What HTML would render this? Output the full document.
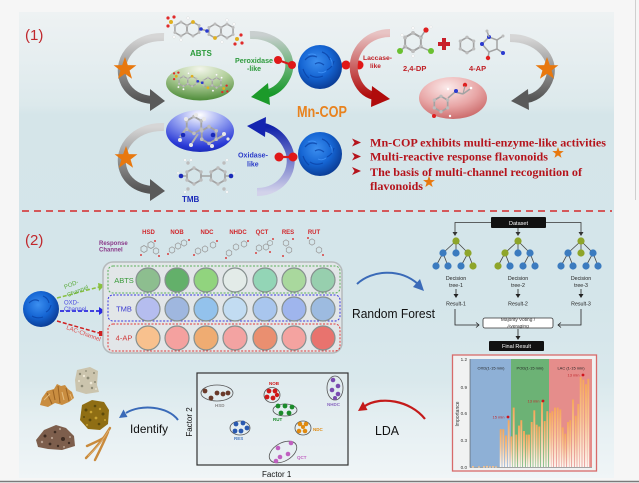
<!DOCTYPE html>
<html><head><meta charset="utf-8">
<style>
html,body{margin:0;padding:0;background:#f6f6f6;}
svg{display:block;font-family:"Liberation Sans",Arial,sans-serif;}
</style></head><body>
<svg width="639" height="483" viewBox="0 0 639 483" xmlns="http://www.w3.org/2000/svg" xmlns:xlink="http://www.w3.org/1999/xlink">
<defs>
<linearGradient id="bg" x1="0" y1="0" x2="0" y2="1">
<stop offset="0" stop-color="#eef2f3"/>
<stop offset="0.10" stop-color="#e6eef0"/>
<stop offset="0.20" stop-color="#dce9ec"/>
<stop offset="0.22" stop-color="#d5e5e9"/>
<stop offset="0.62" stop-color="#d4e5ea"/>
<stop offset="0.79" stop-color="#d9e8ec"/>
<stop offset="0.88" stop-color="#e5eff2"/>
<stop offset="1" stop-color="#f0f5f7"/>
</linearGradient>
<radialGradient id="sph" cx="0.42" cy="0.38" r="0.65">
<stop offset="0" stop-color="#3c8ff0"/><stop offset="0.55" stop-color="#1565d3"/><stop offset="1" stop-color="#0a3a92"/>
</radialGradient>
<radialGradient id="gEll" cx="0.5" cy="0.1" r="0.95">
<stop offset="0" stop-color="#f2f5ea"/><stop offset="0.45" stop-color="#b3cf9c"/><stop offset="1" stop-color="#43852f"/>
</radialGradient>
<radialGradient id="bEll" cx="0.5" cy="0.12" r="0.95">
<stop offset="0" stop-color="#ffffff"/><stop offset="0.4" stop-color="#8f9cf0"/><stop offset="0.8" stop-color="#2a3ad6"/><stop offset="1" stop-color="#1424a8"/>
</radialGradient>
<radialGradient id="rEll" cx="0.42" cy="0.25" r="0.9">
<stop offset="0" stop-color="#fbeaea"/><stop offset="0.5" stop-color="#e8a6a6"/><stop offset="1" stop-color="#bf5252"/>
</radialGradient>
<linearGradient id="grayA" x1="0" y1="0" x2="0" y2="1">
<stop offset="0" stop-color="#d6d6d6"/><stop offset="1" stop-color="#555555"/>
</linearGradient>
<linearGradient id="greenA" x1="0" y1="0" x2="0" y2="1">
<stop offset="0" stop-color="#c9cfcf"/><stop offset="1" stop-color="#17992a"/>
</linearGradient>
<linearGradient id="blueA" x1="0" y1="1" x2="0" y2="0">
<stop offset="0" stop-color="#d2d2ea"/><stop offset="1" stop-color="#1222aa"/>
</linearGradient>
<linearGradient id="redA" x1="0" y1="0" x2="0" y2="1">
<stop offset="0" stop-color="#e8c4c4"/><stop offset="1" stop-color="#b00c0c"/>
</linearGradient>
<linearGradient id="bar" x1="0" y1="0" x2="0" y2="1">
<stop offset="0" stop-color="#f6a75a"/><stop offset="0.45" stop-color="#f8c592"/><stop offset="1" stop-color="#fdf7f2"/>
</linearGradient>
<path id="star" d="M0,-12 L2.82,-3.88 L11.41,-3.71 L4.57,1.48 L7.05,9.71 L0,4.8 L-7.05,9.71 L-4.57,1.48 L-11.41,-3.71 L-2.82,-3.88 Z"/>
<g id="hx">
<polygon points="6.06,3.5 0,7 -6.06,3.5 -6.06,-3.5 0,-7 6.06,-3.5" fill="none" stroke="#a3a3a3" stroke-width="1.5"/>
<g fill="#bdbdbd"><circle cx="6.06" cy="3.5" r="1.5"/><circle cx="0" cy="7" r="1.5"/><circle cx="-6.06" cy="3.5" r="1.5"/><circle cx="-6.06" cy="-3.5" r="1.5"/><circle cx="0" cy="-7" r="1.5"/><circle cx="6.06" cy="-3.5" r="1.5"/></g>
</g>
<g id="hs">
<polygon points="6.06,3.5 0,7 -6.06,3.5 -6.06,-3.5 0,-7 6.06,-3.5" fill="none" stroke="#9a9a9a" stroke-width="1.6"/>
</g>
<g id="abts">
<use xlink:href="#hx" x="-23" y="-1"/><use xlink:href="#hx" x="-11" y="-1"/>
<use xlink:href="#hx" x="11" y="1"/><use xlink:href="#hx" x="23" y="1"/>
<line x1="-5" y1="-1" x2="5" y2="1" stroke="#a0a0a0" stroke-width="1.5"/>
<circle cx="-3" cy="-1" r="1.8" fill="#2a3ad0"/><circle cx="3" cy="1" r="1.8" fill="#2a3ad0"/>
<circle cx="-11" cy="-8" r="1.9" fill="#e0b020"/><circle cx="11" cy="8" r="1.9" fill="#e0b020"/>
<circle cx="-33" cy="-8" r="2" fill="#e0b020"/><circle cx="-36" cy="-12" r="1.6" fill="#e02a2a"/><circle cx="-30" cy="-13" r="1.6" fill="#e02a2a"/><circle cx="-36" cy="-4" r="1.6" fill="#e02a2a"/>
<circle cx="33" cy="9" r="2" fill="#e0b020"/><circle cx="37" cy="5" r="1.6" fill="#e02a2a"/><circle cx="38" cy="13" r="1.6" fill="#e02a2a"/><circle cx="31" cy="14" r="1.6" fill="#e02a2a"/>
<g fill="#ffffff" stroke="#cccccc" stroke-width="0.3"><circle cx="-23" cy="10" r="1.3"/><circle cx="-16" cy="-12" r="1.3"/><circle cx="23" cy="-10" r="1.3"/><circle cx="18" cy="12" r="1.3"/><circle cx="-30" cy="7" r="1.3"/><circle cx="30" cy="-6" r="1.3"/></g>
</g>
</defs>

<!-- backgrounds -->
<rect width="639" height="483" fill="#f6f6f6"/>
<rect x="19" y="12" width="595" height="466" fill="url(#bg)"/>
<line x1="0" y1="481.5" x2="639" y2="481.5" stroke="#7a7a7a" stroke-width="1.5"/>
<line x1="635.5" y1="0" x2="635.5" y2="200" stroke="#cfcfcf" stroke-width="1"/>

<!-- ============ SECTION 1 ============ -->
<text x="25" y="40" font-size="15" fill="#c0282d">(1)</text>

<!-- gray arrows left -->
<path d="M164,37 C132,36 114,62 125,84 C131,95 141,99 152,100" fill="none" stroke="url(#grayA)" stroke-width="8"/>
<polygon points="150,89 165,101 150,111" fill="#5a5a5a"/>
<path d="M164,127 C132,126 114,152 125,174 C131,185 141,189 152,190" fill="none" stroke="url(#grayA)" stroke-width="8"/>
<polygon points="150,179 165,191 150,201" fill="#5a5a5a"/>
<use xlink:href="#star" x="125" y="69" fill="#e8780e"/>
<use xlink:href="#star" x="126" y="158" fill="#e8780e"/>

<!-- ABTS molecule top -->
<use xlink:href="#abts" x="204" y="30"/>
<text x="190" y="56" font-size="8" font-weight="bold" fill="#2a9a3a">ABTS</text>

<!-- green ellipse -->
<ellipse cx="200" cy="83" rx="34" ry="17.5" fill="url(#gEll)"/>
<g transform="translate(200,82) scale(0.72)"><use xlink:href="#abts"/></g>

<!-- blue ellipse -->
<ellipse cx="200" cy="131" rx="34" ry="21" fill="url(#bEll)"/>
<g transform="translate(200,131)">
<g transform="translate(-6,-6) scale(1.2)"><use xlink:href="#hx"/></g>
<g transform="translate(9,4) scale(1.2)"><use xlink:href="#hx"/></g>
<line x1="-14" y1="-2" x2="-20" y2="6" stroke="#b0b0b0" stroke-width="2"/>
<line x1="17" y1="8" x2="24" y2="4" stroke="#b0b0b0" stroke-width="2"/>
<line x1="-2" y1="3" x2="-8" y2="12" stroke="#b0b0b0" stroke-width="2"/>
<circle cx="-17" cy="4" r="2.3" fill="#1a2ab8"/><circle cx="13" cy="4" r="2.3" fill="#1a2ab8"/>
<g fill="#e8e8e8"><circle cx="-20" cy="9" r="2"/><circle cx="24" cy="3" r="2"/><circle cx="-9" cy="14" r="2"/><circle cx="-4" cy="-16" r="2"/><circle cx="4" cy="-12" r="2"/><circle cx="-14" cy="-12" r="2"/><circle cx="12" cy="15" r="2"/><circle cx="28" cy="8" r="1.6"/></g>
</g>

<!-- TMB -->
<g transform="translate(194,176) scale(1.15)"><use xlink:href="#hx"/></g>
<g transform="translate(218,176) scale(1.15)"><use xlink:href="#hx"/></g>
<line x1="201" y1="176" x2="211" y2="176" stroke="#a3a3a3" stroke-width="1.5"/>
<line x1="187" y1="176" x2="182" y2="176" stroke="#a3a3a3" stroke-width="1.5"/>
<line x1="225" y1="176" x2="230" y2="176" stroke="#a3a3a3" stroke-width="1.5"/>
<circle cx="181" cy="176" r="2.3" fill="#1a2ab8"/><circle cx="231" cy="176" r="2.3" fill="#1a2ab8"/>
<g fill="#bdbdbd"><circle cx="188" cy="163" r="1.7"/><circle cx="224" cy="163" r="1.7"/><circle cx="188" cy="189" r="1.7"/><circle cx="224" cy="189" r="1.7"/></g>
<g fill="#fff" stroke="#ccc" stroke-width="0.3"><circle cx="185" cy="160" r="1.2"/><circle cx="191" cy="160" r="1.2"/><circle cx="227" cy="160" r="1.2"/><circle cx="185" cy="192" r="1.2"/><circle cx="227" cy="192" r="1.2"/><circle cx="178" cy="173" r="1.1"/><circle cx="234" cy="173" r="1.1"/></g>
<text x="182" y="202" font-size="8" font-weight="bold" fill="#1a2ab8">TMB</text>

<!-- green/blue arrows -->
<path d="M250,35 C278,34 296,56 287,76 C282,87 274,92 266,94" fill="none" stroke="url(#greenA)" stroke-width="8"/>
<polygon points="268,83 251,97 270,105" fill="#1c9a2a"/>
<path d="M257,192 C283,192 297,168 288,148 C283,137 275,130 264,127" fill="none" stroke="url(#blueA)" stroke-width="8"/>
<polygon points="266,117 247,126 265,137" fill="#1424b0"/>
<text x="235" y="63" font-size="7" font-weight="bold" fill="#2d9a3c" textLength="38" lengthAdjust="spacingAndGlyphs">Peroxidase</text>
<text x="247" y="71" font-size="7" font-weight="bold" fill="#2d9a3c">-like</text>
<text x="238" y="157.5" font-size="7" font-weight="bold" fill="#2a3ac8" textLength="30" lengthAdjust="spacingAndGlyphs">Oxidase-</text>
<text x="247" y="166.5" font-size="7" font-weight="bold" fill="#2a3ac8">like</text>

<!-- H2O2 & O2 -->
<line x1="278" y1="60" x2="292" y2="65" stroke="#d81a1a" stroke-width="2"/>
<circle cx="278" cy="60" r="4" fill="#e01818"/><circle cx="292" cy="65" r="4" fill="#e01818"/>
<circle cx="273" cy="66" r="1.5" fill="#eee"/><circle cx="297" cy="58" r="1.5" fill="#eee"/>
<line x1="346" y1="65" x2="359" y2="65" stroke="#d81a1a" stroke-width="2.2"/>
<circle cx="346" cy="65" r="4.5" fill="#e01818"/><circle cx="359" cy="65" r="4.5" fill="#e01818"/>
<line x1="279" y1="157" x2="293" y2="157" stroke="#d81a1a" stroke-width="2.2"/>
<circle cx="279" cy="157" r="4.5" fill="#e01818"/><circle cx="293" cy="157" r="4.5" fill="#e01818"/>

<!-- Mn-COP spheres -->
<g>
<circle cx="320" cy="67" r="22" fill="url(#sph)"/>
<g fill="none" stroke="#0b44a8" stroke-width="1.2" opacity="0.8">
<path d="M305,60 q5,-6 12,-3"/><path d="M322,52 q6,2 8,8"/><path d="M310,75 q6,4 13,1"/><path d="M327,70 q5,-2 7,-9"/><path d="M303,69 q2,6 6,9"/><path d="M315,64 q4,-3 9,1"/>
</g>
<g fill="none" stroke="#4a9cff" stroke-width="0.9" opacity="0.7"><path d="M308,55 q4,-2 8,0"/><path d="M318,72 q4,2 8,-1"/><path d="M330,58 q3,4 2,8"/></g>
</g>
<g>
<circle cx="320" cy="154" r="22" fill="url(#sph)"/>
<g fill="none" stroke="#0b44a8" stroke-width="1.2" opacity="0.8">
<path d="M305,147 q5,-6 12,-3"/><path d="M322,139 q6,2 8,8"/><path d="M310,162 q6,4 13,1"/><path d="M327,157 q5,-2 7,-9"/><path d="M303,156 q2,6 6,9"/><path d="M315,151 q4,-3 9,1"/>
</g>
<g fill="none" stroke="#4a9cff" stroke-width="0.9" opacity="0.7"><path d="M308,142 q4,-2 8,0"/><path d="M318,159 q4,2 8,-1"/><path d="M330,145 q3,4 2,8"/></g>
</g>
<text x="297" y="117" font-size="15.5" font-weight="bold" fill="#e8821e" textLength="50" lengthAdjust="spacingAndGlyphs">Mn-COP</text>

<!-- laccase red arrow -->
<path d="M390,33 C364,33 349,56 355,76 C359,88 366,94 374,96" fill="none" stroke="url(#redA)" stroke-width="8"/>
<polygon points="372,86 390,99 371,107" fill="#b00c0c"/>
<text x="363" y="60" font-size="6.5" font-weight="bold" fill="#c02026" textLength="29" lengthAdjust="spacingAndGlyphs">Laccase-</text>
<text x="370" y="68" font-size="6.5" font-weight="bold" fill="#c02026">like</text>

<!-- 2,4-DP -->
<g transform="translate(413,42) scale(1.3)"><use xlink:href="#hx"/></g>
<line x1="405" y1="47" x2="401" y2="50" stroke="#a3a3a3" stroke-width="1.5"/>
<line x1="421" y1="37" x2="425" y2="31" stroke="#a3a3a3" stroke-width="1.5"/>
<line x1="421" y1="47" x2="430" y2="51" stroke="#a3a3a3" stroke-width="1.5"/>
<circle cx="400" cy="51" r="3" fill="#6ac030"/><circle cx="431" cy="51" r="3" fill="#6ac030"/>
<circle cx="426" cy="30" r="2.6" fill="#e02020"/>
<g fill="#fff" stroke="#ccc" stroke-width="0.3"><circle cx="413" cy="28" r="1.3"/><circle cx="402" cy="35" r="1.3"/><circle cx="413" cy="56" r="1.3"/><circle cx="431" cy="27" r="1.2"/></g>
<rect x="438" y="42" width="12" height="4" fill="#c81e2a"/><rect x="442" y="38" width="4" height="12" fill="#c81e2a"/>
<text x="403" y="71" font-size="7.5" font-weight="bold" fill="#c02026">2,4-DP</text>

<!-- 4-AP -->
<g transform="translate(467,45) scale(1.1)"><use xlink:href="#hx"/></g>
<polygon points="482,44 489,37 497,40 497,49 489,52" fill="none" stroke="#a3a3a3" stroke-width="1.5"/>
<circle cx="482" cy="44" r="2" fill="#2a3ad0"/><circle cx="489" cy="37" r="2" fill="#2a3ad0"/>
<line x1="489" y1="52" x2="488" y2="58" stroke="#a3a3a3" stroke-width="1.5"/>
<circle cx="488" cy="58" r="2.2" fill="#e02020"/>
<line x1="497" y1="49" x2="503" y2="53" stroke="#a3a3a3" stroke-width="1.5"/>
<circle cx="503" cy="53" r="2" fill="#2a3ad0"/>
<line x1="489" y1="37" x2="487" y2="31" stroke="#a3a3a3" stroke-width="1.5"/>
<line x1="497" y1="40" x2="503" y2="36" stroke="#a3a3a3" stroke-width="1.5"/>
<g fill="#bdbdbd"><circle cx="487" cy="31" r="1.5"/><circle cx="503" cy="36" r="1.5"/></g>
<text x="469" y="71" font-size="7.5" font-weight="bold" fill="#c02026">4-AP</text>

<!-- gray arrow right -->
<path d="M510,38 C538,38 555,58 550,77 C546,90 537,97 527,99" fill="none" stroke="url(#grayA)" stroke-width="8"/>
<polygon points="528,89 511,101 529,110" fill="#5a5a5a"/>
<use xlink:href="#star" x="547" y="69" fill="#e8780e"/>

<!-- red ellipse -->
<ellipse cx="453" cy="98" rx="34" ry="21" fill="url(#rEll)"/>
<g transform="translate(441,104) scale(1.1)"><use xlink:href="#hx"/></g>
<line x1="448" y1="98" x2="455" y2="92" stroke="#a3a3a3" stroke-width="1.5"/>
<line x1="455" y1="92" x2="463" y2="94" stroke="#a3a3a3" stroke-width="1.5"/>
<line x1="463" y1="94" x2="470" y2="89" stroke="#a3a3a3" stroke-width="1.5"/>
<circle cx="456" cy="91" r="2" fill="#2a3ad0"/><circle cx="465" cy="85" r="2.2" fill="#e02020"/>
<line x1="463" y1="94" x2="465" y2="86" stroke="#a3a3a3" stroke-width="1.2"/>
<circle cx="434" cy="116" r="2" fill="#e02020"/>
<g fill="#fff"><circle cx="471" cy="88" r="1.3"/><circle cx="450" cy="116" r="1.2"/><circle cx="448" cy="89" r="1.2"/></g>

<!-- bullets -->
<g fill="#b5141c">
<polygon points="352,138.5 361,142.5 352,146.5 354.5,142.5"/>
<polygon points="352,152.5 361,156.5 352,160.5 354.5,156.5"/>
<polygon points="352,167 361,171 352,175 354.5,171"/>
</g>
<g font-family="'Liberation Serif',serif" font-weight="bold" font-size="12" fill="#b5141c">
<text x="370" y="146.5" textLength="236" lengthAdjust="spacingAndGlyphs">Mn-COP exhibits multi-enzyme-like activities</text>
<text x="370" y="160.5" textLength="178" lengthAdjust="spacingAndGlyphs">Multi-reactive response flavonoids</text>
<text x="370" y="176" textLength="212" lengthAdjust="spacingAndGlyphs">The basis of multi-channel recognition of</text>
<text x="370" y="190" textLength="53" lengthAdjust="spacingAndGlyphs">flavonoids</text>
</g>
<g transform="translate(558,153) scale(0.5)"><use xlink:href="#star" fill="#e8780e"/></g>
<g transform="translate(429,182) scale(0.52)"><use xlink:href="#star" fill="#e8780e"/></g>

<!-- dashed divider -->
<line x1="22" y1="211" x2="612" y2="211" stroke="#d42a2a" stroke-width="1.6" stroke-dasharray="7,5"/>

<!-- ============ SECTION 2 ============ -->
<text x="25" y="245" font-size="15" fill="#c0282d">(2)</text>
<text x="99" y="245" font-size="6" font-weight="bold" fill="#8a3a8a">Response</text>
<text x="99" y="251.5" font-size="6" font-weight="bold" fill="#8a3a8a">Channel</text>

<g font-size="6" font-weight="bold" fill="#d0282d" text-anchor="middle">
<text x="148.5" y="234">HSD</text><text x="177" y="234">NOB</text><text x="207" y="234">NDC</text><text x="238" y="234">NHDC</text><text x="262" y="234">QCT</text><text x="288" y="234">RES</text><text x="314" y="234">RUT</text>
</g>
<!-- small header molecules -->
<g>
<g transform="translate(144,249) scale(0.5)"><use xlink:href="#hs"/></g><g transform="translate(151,245) scale(0.5)"><use xlink:href="#hs"/></g><g transform="translate(156,251) scale(0.45)"><use xlink:href="#hs"/></g>
<g transform="translate(172,250) scale(0.45)"><use xlink:href="#hs"/></g><g transform="translate(178,246) scale(0.45)"><use xlink:href="#hs"/></g><g transform="translate(184,243) scale(0.45)"><use xlink:href="#hs"/></g>
<g transform="translate(198,251) scale(0.45)"><use xlink:href="#hs"/></g><g transform="translate(205,249) scale(0.45)"><use xlink:href="#hs"/></g><g transform="translate(213,245) scale(0.45)"><use xlink:href="#hs"/></g>
<g transform="translate(229,253) scale(0.45)"><use xlink:href="#hs"/></g><g transform="translate(236,247) scale(0.45)"><use xlink:href="#hs"/></g><g transform="translate(244,244) scale(0.45)"><use xlink:href="#hs"/></g>
<g transform="translate(259,248) scale(0.45)"><use xlink:href="#hs"/></g><g transform="translate(266,247) scale(0.45)"><use xlink:href="#hs"/></g><g transform="translate(270,243) scale(0.4)"><use xlink:href="#hs"/></g>
<g transform="translate(286,243) scale(0.45)"><use xlink:href="#hs"/></g><g transform="translate(289,250) scale(0.45)"><use xlink:href="#hs"/></g>
<g transform="translate(312,242) scale(0.45)"><use xlink:href="#hs"/></g><g transform="translate(319,250) scale(0.45)"><use xlink:href="#hs"/></g>
<g fill="#d84040"><circle cx="141" cy="255" r="1"/><circle cx="155" cy="241" r="1"/><circle cx="159" cy="256" r="1"/><circle cx="168" cy="254" r="1"/><circle cx="189" cy="240" r="1"/><circle cx="194" cy="255" r="1"/><circle cx="217" cy="241" r="1"/><circle cx="226" cy="258" r="1"/><circle cx="248" cy="241" r="1"/><circle cx="256" cy="253" r="1"/><circle cx="273" cy="239" r="1"/><circle cx="270" cy="252" r="1"/><circle cx="283" cy="256" r="1"/><circle cx="293" cy="239" r="1"/><circle cx="308" cy="238" r="1"/><circle cx="323" cy="255" r="1"/></g>
</g>

<!-- sphere & channels -->
<circle cx="41" cy="309" r="18" fill="url(#sph)"/>
<g fill="none" stroke="#0b44a8" stroke-width="1.1" opacity="0.8"><path d="M29,303 q5,-5 10,-2"/><path d="M43,296 q5,2 6,7"/><path d="M32,316 q5,3 11,1"/><path d="M46,312 q4,-2 5,-7"/></g>
<line x1="57" y1="298" x2="99" y2="287" stroke="#8ac040" stroke-width="1.5" stroke-dasharray="4,2"/>
<polygon points="98,283 105,285 99,291" fill="#8ac040"/>
<line x1="60" y1="311" x2="99" y2="311" stroke="#2a2ae0" stroke-width="1.8" stroke-dasharray="4,2"/>
<polygon points="99,307 105,311 99,315" fill="#2a2ae0"/>
<line x1="57" y1="321" x2="99" y2="333" stroke="#d02020" stroke-width="1.5" stroke-dasharray="4,2"/>
<rect x="99" y="331" width="5" height="5" fill="#d02020"/>
<g font-size="6" fill="#5aaa3a"><text transform="translate(65,289) rotate(-22)">POD-</text><text transform="translate(68,297) rotate(-22)">Channel</text></g>
<g font-size="6" fill="#4a4ae0"><text x="64" y="304.5">OXD-</text><text x="64" y="311">Channel</text></g>
<g font-size="6" fill="#e04a4a"><text transform="translate(66,329) rotate(20)">LAC-Channel</text></g>

<!-- plate -->
<rect x="103" y="262" width="239" height="91" rx="10" fill="#e2e6e8" stroke="#b5babc" stroke-width="1.5"/>
<rect x="108" y="266" width="232" height="27" rx="5" fill="none" stroke="#5ab05a" stroke-width="1" stroke-dasharray="2,1.5"/>
<rect x="108" y="295" width="232" height="26" rx="5" fill="none" stroke="#3a3ae0" stroke-width="1" stroke-dasharray="2,1.5"/>
<rect x="108" y="324" width="232" height="27" rx="5" fill="none" stroke="#e03a3a" stroke-width="1" stroke-dasharray="2,1.5"/>
<g font-size="7.5" text-anchor="middle">
<text x="124" y="283" fill="#3a9a3a">ABTS</text>
<text x="124" y="311.5" fill="#3a3ad0">TMB</text>
<text x="124" y="340.5" fill="#d03a3a">4-AP</text>
</g>
<g stroke="#86908f" stroke-width="1.2">
<circle cx="148" cy="280" r="12" fill="#8dbe8f"/><circle cx="177" cy="280" r="12" fill="#63b06a"/><circle cx="206" cy="280" r="12" fill="#91d47e"/><circle cx="235" cy="280" r="12" fill="#e3ebe8"/><circle cx="265" cy="280" r="12" fill="#93d5b6"/><circle cx="294" cy="280" r="12" fill="#a9d89d"/><circle cx="323" cy="280" r="12" fill="#97cfae"/>
<circle cx="148" cy="309" r="12" fill="#b5bdef"/><circle cx="177" cy="309" r="12" fill="#9fb7df"/><circle cx="206" cy="309" r="12" fill="#93c2ec"/><circle cx="235" cy="309" r="12" fill="#c2dcf2"/><circle cx="265" cy="309" r="12" fill="#a9c6ee"/><circle cx="294" cy="309" r="12" fill="#9fb5ed"/><circle cx="323" cy="309" r="12" fill="#9dbbe0"/>
<circle cx="148" cy="338" r="12" fill="#f8c18e"/><circle cx="177" cy="338" r="12" fill="#f4a19f"/><circle cx="206" cy="338" r="12" fill="#efac72"/><circle cx="235" cy="338" r="12" fill="#f3a3a2"/><circle cx="265" cy="338" r="12" fill="#ea8f70"/><circle cx="294" cy="338" r="12" fill="#f4a3a0"/><circle cx="323" cy="338" r="12" fill="#e8736e"/>
</g>

<!-- Random forest arrow & text -->
<path d="M357,284 C372,270 400,268 418,284" fill="none" stroke="#3a6ab8" stroke-width="2"/>
<polygon points="424,291 413,287 420,279" fill="#3a6ab8"/>
<text x="352" y="318" font-size="13" fill="#111" textLength="83" lengthAdjust="spacingAndGlyphs">Random Forest</text>

<!-- decision trees -->
<rect x="491" y="217" width="55" height="11" rx="1" fill="#111"/>
<text x="518.5" y="224.8" font-size="5.5" fill="#fff" text-anchor="middle">Dataset</text>
<g stroke="#333" stroke-width="0.8" fill="none">
<polyline points="491,222.5 455,222.5 455,233"/><polyline points="546,222.5 581,222.5 581,233"/><line x1="518" y1="228" x2="518" y2="233"/>
</g>
<g fill="#333"><polygon points="452.5,232 457.5,232 455,236"/><polygon points="578.5,232 583.5,232 581,236"/><polygon points="515.5,232 520.5,232 518,236"/></g>
<g stroke="#444" stroke-width="0.8">
<line x1="456" y1="241" x2="443" y2="253"/><line x1="456" y1="241" x2="456" y2="253"/><line x1="456" y1="241" x2="468" y2="253"/><line x1="443" y1="253" x2="436" y2="266"/><line x1="443" y1="253" x2="448" y2="266"/><line x1="468" y1="253" x2="461" y2="266"/><line x1="468" y1="253" x2="473" y2="266"/>
<line x1="518" y1="241" x2="505" y2="253"/><line x1="518" y1="241" x2="518" y2="253"/><line x1="518" y1="241" x2="530" y2="253"/><line x1="505" y1="253" x2="498" y2="266"/><line x1="505" y1="253" x2="510" y2="266"/><line x1="530" y1="253" x2="523" y2="266"/><line x1="530" y1="253" x2="535" y2="266"/>
<line x1="581" y1="241" x2="568" y2="253"/><line x1="581" y1="241" x2="581" y2="253"/><line x1="581" y1="241" x2="593" y2="253"/><line x1="568" y1="253" x2="561" y2="266"/><line x1="568" y1="253" x2="573" y2="266"/><line x1="593" y1="253" x2="586" y2="266"/><line x1="593" y1="253" x2="598" y2="266"/>
</g>
<g>
<circle cx="456" cy="241" r="3.6" fill="#8ea52a"/><circle cx="443" cy="253" r="3.6" fill="#3b7bbf"/><circle cx="456" cy="253" r="3.6" fill="#3b7bbf"/><circle cx="468" cy="253" r="3.6" fill="#8ea52a"/><circle cx="436" cy="266" r="3.6" fill="#3b7bbf"/><circle cx="448" cy="266" r="3.6" fill="#3b7bbf"/><circle cx="461" cy="266" r="3.6" fill="#3b7bbf"/><circle cx="473" cy="266" r="3.6" fill="#8ea52a"/>
<circle cx="518" cy="241" r="3.6" fill="#8ea52a"/><circle cx="505" cy="253" r="3.6" fill="#8ea52a"/><circle cx="518" cy="253" r="3.6" fill="#3b7bbf"/><circle cx="530" cy="253" r="3.6" fill="#3b7bbf"/><circle cx="498" cy="266" r="3.6" fill="#8ea52a"/><circle cx="510" cy="266" r="3.6" fill="#3b7bbf"/><circle cx="523" cy="266" r="3.6" fill="#3b7bbf"/><circle cx="535" cy="266" r="3.6" fill="#3b7bbf"/>
<circle cx="581" cy="241" r="3.6" fill="#8ea52a"/><circle cx="568" cy="253" r="3.6" fill="#3b7bbf"/><circle cx="581" cy="253" r="3.6" fill="#8ea52a"/><circle cx="593" cy="253" r="3.6" fill="#3b7bbf"/><circle cx="561" cy="266" r="3.6" fill="#3b7bbf"/><circle cx="573" cy="266" r="3.6" fill="#3b7bbf"/><circle cx="586" cy="266" r="3.6" fill="#3b7bbf"/><circle cx="598" cy="266" r="3.6" fill="#3b7bbf"/>
</g>
<g font-size="5.3" fill="#222" text-anchor="middle">
<text x="456" y="280">Decision</text><text x="456" y="287">tree-1</text><text x="456" y="305.5">Result-1</text>
<text x="518" y="280">Decision</text><text x="518" y="287">tree-2</text><text x="518" y="305.5">Result-2</text>
<text x="581" y="280">Decision</text><text x="581" y="287">tree-3</text><text x="581" y="305.5">Result-3</text>
</g>
<g stroke="#222" stroke-width="0.8" fill="none">
<line x1="456" y1="289" x2="456" y2="295"/><line x1="518" y1="289" x2="518" y2="295"/><line x1="581" y1="289" x2="581" y2="295"/>
<polyline points="455,309 455,325 479,325"/><polyline points="581,309 581,325 558,325"/>
<polyline points="476,322.5 479,325 476,327.5"/><polyline points="561,322.5 558,325 561,327.5"/>
<line x1="518" y1="329" x2="518" y2="337"/>
</g>
<g fill="#222"><polygon points="453.5,294 458.5,294 456,298"/><polygon points="515.5,294 520.5,294 518,298"/><polygon points="578.5,294 583.5,294 581,298"/><polygon points="515.5,336 520.5,336 518,340"/></g>
<rect x="483" y="318" width="70" height="10" rx="2" fill="#fff" stroke="#333" stroke-width="0.8"/>
<text x="518" y="321" font-size="4.8" fill="#333" text-anchor="middle">Majority Voting /</text>
<text x="518" y="327.5" font-size="4.8" fill="#333" text-anchor="middle">Averaging</text>
<rect x="489" y="341" width="55" height="10" rx="1" fill="#111"/>
<text x="516.5" y="348" font-size="5.5" fill="#fff" text-anchor="middle">Final Result</text>

<!-- bar chart -->
<rect x="452.5" y="355" width="144" height="116" fill="#f1f2f2" stroke="#d86a6a" stroke-width="1.3"/>
<rect x="470" y="359" width="41" height="108" fill="#8eb0d6"/>
<rect x="511" y="359" width="38" height="108" fill="#6cb275"/>
<rect x="549" y="359" width="43" height="108" fill="#e58d8b"/>
<line x1="470" y1="359" x2="470" y2="467.5" stroke="#555" stroke-width="0.6"/>
<line x1="470" y1="467.5" x2="592" y2="467.5" stroke="#555" stroke-width="0.6"/>
<g font-size="4.6" fill="#333" text-anchor="end">
<text x="467" y="361">1.2</text><text x="467" y="389">0.9</text><text x="467" y="415">0.6</text><text x="467" y="442">0.3</text><text x="467" y="469">0.0</text>
</g>
<text transform="translate(459,414) rotate(-90)" font-size="5" fill="#333" text-anchor="middle">Importance</text>
<g font-size="4" fill="#222" text-anchor="middle">
<text x="491" y="369.5">OXD(1-15 min)</text><text x="530" y="369.5">POD(1-15 min)</text><text x="571" y="369.5">LAC (1-15 min)</text>
</g>
<g fill="url(#bar)">
<rect x="472" y="466" width="1.9" height="1.5"/><rect x="478" y="466.3" width="1.9" height="1.2"/><rect x="483" y="466" width="1.9" height="1.5"/><rect x="486" y="465.8" width="1.9" height="1.7"/><rect x="489" y="466.2" width="1.9" height="1.3"/><rect x="492" y="466" width="1.9" height="1.5"/><rect x="495" y="466.3" width="1.9" height="1.2"/>
<rect x="499.75" y="429.2" width="1.9" height="37.8"/>
<rect x="502.35" y="429.2" width="1.9" height="37.8"/>
<rect x="505.05" y="435.5" width="1.9" height="31.5"/>
<rect x="507.75" y="420.2" width="1.9" height="46.8"/>
<rect x="510.35" y="436.4" width="1.9" height="30.6"/>
<rect x="512.75" y="407.6" width="1.9" height="59.4"/>
<rect x="515.35" y="434.6" width="1.9" height="32.4"/>
<rect x="518.05" y="425.6" width="1.9" height="41.4"/>
<rect x="520.35" y="420.2" width="1.9" height="46.8"/>
<rect x="523.05" y="431" width="1.9" height="36"/>
<rect x="525.75" y="434.6" width="1.9" height="32.4"/>
<rect x="528.05" y="434.6" width="1.9" height="32.4"/>
<rect x="530.75" y="422" width="1.9" height="45"/>
<rect x="533.35" y="410.3" width="1.9" height="56.7"/>
<rect x="535.75" y="424.7" width="1.9" height="42.3"/>
<rect x="538.35" y="426.5" width="1.9" height="40.5"/>
<rect x="541.05" y="402.2" width="1.9" height="64.8"/>
<rect x="543.75" y="421.1" width="1.9" height="45.9"/>
<rect x="546.35" y="411.2" width="1.9" height="55.8"/>
<rect x="549.05" y="413" width="1.9" height="54"/>
<rect x="551.35" y="411.2" width="1.9" height="55.8"/>
<rect x="554.05" y="407.6" width="1.9" height="59.4"/>
<rect x="556.75" y="407.6" width="1.9" height="59.4"/>
<rect x="559.35" y="409.4" width="1.9" height="57.6"/>
<rect x="561.75" y="427.4" width="1.9" height="39.6"/>
<rect x="564.35" y="433.7" width="1.9" height="33.3"/>
<rect x="567.05" y="422" width="1.9" height="45"/>
<rect x="569.35" y="420.2" width="1.9" height="46.8"/>
<rect x="572.05" y="399.5" width="1.9" height="67.5"/>
<rect x="574.75" y="415.7" width="1.9" height="51.3"/>
<rect x="577.35" y="404" width="1.9" height="63"/>
<rect x="579.75" y="377" width="1.9" height="90"/>
<rect x="582.35" y="379.7" width="1.9" height="87.3"/>
<rect x="585.05" y="384.2" width="1.9" height="82.8"/>
<rect x="587.35" y="378.8" width="1.9" height="88.2"/>
</g>
<g font-size="4" fill="#c0282d">
<text x="492.5" y="418.5">15 min</text><text x="527.5" y="402.5">13 min</text><text x="567.5" y="376.5">13 min</text>
</g>
<g fill="#d0141c"><circle cx="508" cy="417" r="1.4"/><circle cx="543" cy="401" r="1.4"/><circle cx="583" cy="375" r="1.4"/></g>

<!-- LDA arrow -->
<path d="M425,419 C410,400 380,396 365,406" fill="none" stroke="#c41a1a" stroke-width="2.2"/>
<polygon points="358,411 367.5,410 363,401.5" fill="#c41a1a"/>
<text x="375" y="435" font-size="12.5" fill="#111" textLength="24" lengthAdjust="spacingAndGlyphs">LDA</text>

<!-- LDA scatter box -->
<rect x="197" y="373" width="151" height="92" fill="#e4edf0" fill-opacity="0.6" stroke="#333" stroke-width="1.2"/>
<text transform="translate(192,422) rotate(-90)" font-size="8" fill="#111" text-anchor="middle">Factor 2</text>
<text x="262" y="477" font-size="8" fill="#111">Factor 1</text>
<g fill="none" stroke="#555" stroke-width="0.8">
<ellipse cx="217" cy="393" rx="16" ry="8"/>
<ellipse cx="272" cy="395" rx="8" ry="7.5"/>
<ellipse cx="285" cy="410" rx="12" ry="6"/>
<ellipse cx="240" cy="428" rx="10" ry="7"/>
<ellipse cx="303" cy="428" rx="8" ry="7"/>
<ellipse cx="283" cy="452" rx="15" ry="9" transform="rotate(-30 283 452)"/>
<ellipse cx="335" cy="388" rx="8" ry="12"/>
</g>
<g fill="#6a3a2a"><circle cx="205" cy="391" r="2.4"/><circle cx="211" cy="398" r="2.4"/><circle cx="217" cy="393" r="2.4"/><circle cx="223" cy="394" r="2.4"/><circle cx="228" cy="393" r="2.4"/></g>
<g fill="#d01818"><circle cx="269" cy="391" r="2.4"/><circle cx="275" cy="391" r="2.4"/><circle cx="267" cy="397" r="2.4"/><circle cx="273" cy="398" r="2.4"/><circle cx="277" cy="395" r="2.2"/></g>
<g fill="#1a8a2a"><circle cx="278" cy="406" r="2.4"/><circle cx="285" cy="406" r="2.4"/><circle cx="292" cy="407" r="2.4"/><circle cx="281" cy="413" r="2.4"/><circle cx="289" cy="413" r="2.4"/></g>
<g fill="#2a5ab0"><circle cx="236" cy="424" r="2.4"/><circle cx="243" cy="423" r="2.4"/><circle cx="235" cy="431" r="2.4"/><circle cx="241" cy="431" r="2.4"/><circle cx="247" cy="428" r="2.4"/></g>
<g fill="#e08a10"><circle cx="300" cy="424" r="2.3"/><circle cx="306" cy="424" r="2.3"/><circle cx="299" cy="431" r="2.3"/><circle cx="305" cy="431" r="2.3"/><circle cx="303" cy="427" r="2"/></g>
<g fill="#c060c0"><circle cx="278" cy="448" r="2.3"/><circle cx="291" cy="443" r="2.3"/><circle cx="280" cy="457" r="2.3"/><circle cx="288" cy="454" r="2.3"/><circle cx="276" cy="461" r="2.3"/></g>
<g fill="#7a4ab0"><circle cx="333" cy="380" r="2.3"/><circle cx="338" cy="386" r="2.3"/><circle cx="332" cy="390" r="2.3"/><circle cx="338" cy="394" r="2.3"/><circle cx="335" cy="398" r="2"/></g>
<g font-size="4.5" font-weight="bold">
<text x="215" y="407" fill="#8a8a8a">HSD</text>
<text x="269" y="385" fill="#d01818">NOB</text>
<text x="273" y="421" fill="#1a8a2a">RUT</text>
<text x="234" y="440" fill="#4a7ac0">RES</text>
<text x="313" y="431" fill="#e08a10">NDC</text>
<text x="297" y="459" fill="#c060c0">QCT</text>
<text x="327" y="406" fill="#8a6ac0">NHDC</text>
</g>

<!-- Identify -->
<path d="M178,420 C168,406 140,404 126,413" fill="none" stroke="#3a6ab8" stroke-width="2"/>
<polygon points="119,418 127.5,417 123.5,409.5" fill="#3a6ab8"/>
<text x="130" y="433" font-size="12" fill="#111" textLength="38" lengthAdjust="spacingAndGlyphs">Identify</text>

<!-- herbs -->
<polygon points="77,370 90,367 98,371 97,385 99,392 86,394 76,391 75,380" fill="#cbc4ad"/>
<g fill="#8d8a75"><circle cx="80" cy="374" r="1.2"/><circle cx="88" cy="378" r="1.4"/><circle cx="94" cy="373" r="1"/><circle cx="82" cy="386" r="1.3"/><circle cx="92" cy="388" r="1.2"/><circle cx="86" cy="371" r="0.9"/><circle cx="95" cy="382" r="1"/></g>
<g fill="#eee8d6"><circle cx="84" cy="376" r="1.2"/><circle cx="91" cy="383" r="1.3"/><circle cx="79" cy="381" r="1"/><circle cx="96" cy="389" r="0.9"/></g>
<polygon points="42,398 47,391 54,389 57,384 61,386 65,385 68,389 72,392 74,398 69,402 62,405 55,403 48,407 40,405" fill="#c98d40"/>
<g stroke="#9a6222" stroke-width="1" fill="none"><path d="M47,393 L52,404"/><path d="M58,386 L60,403"/><path d="M66,388 L69,401"/><path d="M53,390 L55,400"/></g>
<g stroke="#e4bb7c" stroke-width="1" fill="none"><path d="M44,400 L50,394"/><path d="M62,392 L64,400"/><path d="M70,394 L72,399"/></g>
<polygon points="82,405 92,400 104,402 109,410 108,424 100,430 88,429 80,420" fill="#8f6e14"/>
<g fill="#5c4a0c"><circle cx="86" cy="410" r="1.5"/><circle cx="95" cy="406" r="1.3"/><circle cx="103" cy="414" r="1.5"/><circle cx="90" cy="420" r="1.4"/><circle cx="99" cy="424" r="1.3"/><circle cx="84" cy="417" r="1"/></g>
<g fill="#c9a332"><circle cx="91" cy="412" r="1.3"/><circle cx="100" cy="409" r="1.2"/><circle cx="96" cy="418" r="1.4"/><circle cx="105" cy="420" r="1"/><circle cx="87" cy="425" r="1"/></g>
<polygon points="36,440 44,430 56,425 66,428 74,436 75,446 62,450 48,449 38,447" fill="#7d5e4c"/>
<g fill="#3e2c22"><circle cx="45" cy="436" r="1.5"/><circle cx="55" cy="432" r="1.3"/><circle cx="63" cy="439" r="2"/><circle cx="50" cy="444" r="1.4"/><circle cx="69" cy="443" r="1.2"/><circle cx="58" cy="446" r="1.2"/></g>
<g fill="#b8a090"><circle cx="42" cy="442" r="1.2"/><circle cx="52" cy="438" r="1.1"/><circle cx="60" cy="429" r="1.1"/><circle cx="70" cy="437" r="1"/><circle cx="64" cy="447" r="1"/></g>
<g stroke="#c98a3c" stroke-width="2.4" fill="none" stroke-linecap="round">
<path d="M110,428 C104,438 96,448 86,458"/><path d="M108,432 C104,442 100,450 95,460"/><path d="M105,437 C99,441 93,443 87,446"/>
</g>
<g stroke="#e0b070" stroke-width="0.8" fill="none"><path d="M109,430 C103,440 96,449 88,456"/></g>
</svg>
</body></html>
